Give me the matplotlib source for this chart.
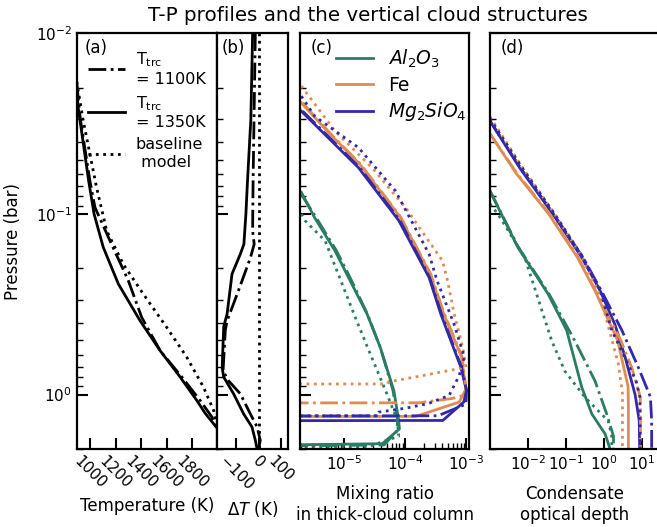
import numpy as np
import matplotlib.pyplot as plt
from matplotlib.ticker import NullLocator

# colours of the three condensates
c_al = '#2a7d64'
c_fe = '#e08c50'
c_mg = '#3328a8'

# ---- (a) T-P profiles ----
p_base = [0.0185, 0.0306, 0.0716, 0.124, 0.19, 0.278, 0.425, 0.622, 0.912, 1.22, 1.5]
t_base = [896, 948, 1052, 1131, 1261, 1418, 1601, 1758, 1889, 1967, 1994]
p_1350 = [0.0188, 0.025, 0.0658, 0.1, 0.153, 0.244, 0.39, 0.571, 0.80, 1.08, 1.27, 1.53]
t_1350 = [896, 905, 990, 1032, 1104, 1222, 1392, 1549, 1706, 1837, 1902, 1994]
p_1100 = [0.0188, 0.03, 0.066, 0.092, 0.141, 0.234, 0.374, 0.571, 0.80, 1.08, 1.33, 1.55]
t_1100 = [896, 925, 1000, 1039, 1157, 1300, 1405, 1549, 1719, 1863, 1954, 1994]

# ---- (b) temperature difference to baseline ----
p_dt1350 = [0.01, 0.03, 0.066, 0.1, 0.147, 0.167, 0.215, 0.358, 0.42, 0.71, 0.8, 0.99, 1.28, 1.51, 1.79, 2.0]
dt_1350 = [-27, -35, -50, -57, -66, -82, -119, -141, -156, -163, -156, -112, -67, -30, -15, -7]
p_dt1100 = [0.01, 0.066, 0.124, 0.147, 0.175, 0.278, 0.39, 0.44, 0.74, 0.84, 0.99, 1.28, 1.51, 1.79, 2.0]
dt_1100 = [-15, -25, -27, -20, -37, -96, -141, -149, -159, -134, -82, -37, -7, 7, 0]
p_dtbase = [0.01, 2.0]
dt_base = [0, 0]

# ---- (c) mixing ratio ----
p_qmg_1350 = [0.027, 0.0379, 0.0555, 0.109, 0.225, 0.358, 0.706, 0.95, 1.10, 1.39, 1.40]
q_mg_1350 = [2e-6, 5.5e-6, 1.72e-5, 7.85e-5, 2.45e-4, 3.8e-4, 8.1e-4, 1.0e-3, 9e-4, 4.1e-4, 1e-10]
p_qmg_1100 = [0.027, 0.0379, 0.0555, 0.109, 0.225, 0.358, 0.706, 0.95, 1.13, 1.31, 1.315]
q_mg_1100 = [2.1e-6, 5.8e-6, 1.8e-5, 8.2e-5, 2.5e-4, 3.9e-4, 8.3e-4, 1.0e-3, 9.8e-4, 3.4e-4, 1e-10]
p_qmg_base = [0.0223, 0.0288, 0.043, 0.0746, 0.167, 0.234, 0.41, 0.62, 0.785, 1.01, 1.12, 1.19, 1.25, 1.31, 1.315]
q_mg_base = [2e-6, 3.3e-6, 1.72e-5, 6.9e-5, 2.45e-4, 3.3e-4, 6.3e-4, 9.2e-4, 7.6e-4, 5.2e-4, 2.4e-4, 1e-4, 3.7e-5, 3.5e-5, 1e-10]

p_qfe_1350 = [0.0243, 0.036, 0.053, 0.104, 0.215, 0.34, 0.62, 0.93, 1.10, 1.32, 1.325]
q_fe_1350 = [2e-6, 5.8e-6, 1.8e-5, 8.2e-5, 2.55e-4, 4.0e-4, 8.3e-4, 9.8e-4, 7.6e-4, 1.48e-4, 1e-10]
p_qfe_1100 = [0.0243, 0.036, 0.053, 0.104, 0.215, 0.34, 0.62, 0.93, 1.0, 1.05, 1.11, 1.115]
q_fe_1100 = [2.1e-6, 6e-6, 1.85e-5, 8.4e-5, 2.6e-4, 4.1e-4, 8.5e-4, 9.8e-4, 1.0e-3, 5.9e-4, 1.67e-4, 1e-10]
p_qfe_base = [0.0196, 0.0209, 0.0348, 0.0555, 0.092, 0.182, 0.234, 0.358, 0.55, 0.706, 0.73, 0.785, 0.85, 0.873, 0.876]
q_fe_base = [2e-6, 2.3e-6, 7.1e-6, 2.86e-5, 1e-4, 4.06e-4, 4.9e-4, 6.3e-4, 8.7e-4, 9.8e-4, 5.9e-4, 1.9e-4, 5.4e-5, 5e-5, 1e-10]

p_qal_1350 = [0.076, 0.105, 0.16, 0.225, 0.358, 0.548, 0.95, 1.39, 1.55, 1.87, 1.97]
q_al_1350 = [2e-6, 3.3e-6, 7.1e-6, 1.18e-5, 2.37e-5, 3.9e-5, 6.5e-5, 7.8e-5, 8e-5, 4.2e-5, 1e-10]
p_qal_1100 = [0.078, 0.105, 0.16, 0.225, 0.358, 0.548, 0.95, 1.39, 1.6, 1.9, 1.98]
q_al_1100 = [2e-6, 3.5e-6, 7.5e-6, 1.25e-5, 2.4e-5, 3.9e-5, 6.3e-5, 7.5e-5, 7.2e-5, 4.5e-5, 1e-10]
p_qal_base = [0.1, 0.109, 0.141, 0.215, 0.39, 0.6, 0.99, 1.39, 1.7, 1.95, 1.99]
q_al_base = [2e-6, 2.3e-6, 4.9e-6, 8e-6, 1.6e-5, 2.7e-5, 5e-5, 7.4e-5, 7.8e-5, 2.4e-5, 1e-10]

# ---- (d) condensate optical depth ----
p_tmg_1350 = [0.0306, 0.0555, 0.1, 0.174, 0.266, 0.41, 0.62, 1.0, 1.4, 2.0]
tau_mg_1350 = [1e-3, 6e-3, 0.045, 0.26, 0.79, 1.95, 3.6, 6.6, 8.5, 8.7]
p_tmg_1100 = [0.0306, 0.0555, 0.1, 0.174, 0.266, 0.44, 0.71, 1.03, 1.4, 2.0]
tau_mg_1100 = [1e-3, 6.3e-3, 0.047, 0.28, 0.85, 2.95, 8.1, 16.7, 18, 18]
p_tmg_base = [0.0297, 0.0555, 0.1, 0.174, 0.266, 0.44, 0.84, 1.03, 1.4, 2.0]
tau_mg_base = [1e-3, 7e-3, 0.05, 0.28, 0.8, 1.6, 7.0, 8.8, 9.0, 9.0]

p_tfe_1350 = [0.036, 0.06, 0.1, 0.174, 0.266, 0.503, 0.9, 1.2, 2.0]
tau_fe_1350 = [1e-3, 5e-3, 0.035, 0.2, 0.58, 2.3, 4.3, 4.4, 4.4]
p_tfe_1100 = [0.036, 0.06, 0.1, 0.174, 0.266, 0.503, 0.71, 1.03, 2.0]
tau_fe_1100 = [1e-3, 5.2e-3, 0.037, 0.21, 0.6, 2.8, 5.4, 9.0, 9.2]
p_tfe_base = [0.029, 0.055, 0.1, 0.174, 0.266, 0.358, 0.68, 0.99, 2.0]
tau_fe_base = [1e-3, 7e-3, 0.05, 0.27, 0.7, 1.07, 2.4, 3.07, 3.07]

p_tal_1350 = [0.0746, 0.153, 0.278, 0.44, 0.91, 1.28, 1.65, 2.0]
tau_al_1350 = [1e-3, 5.4e-3, 0.034, 0.104, 0.26, 0.48, 1.07, 1.45]
p_tal_1100 = [0.0746, 0.153, 0.278, 0.44, 0.503, 0.84, 1.28, 1.7, 2.0]
tau_al_1100 = [1e-3, 5.6e-3, 0.036, 0.12, 0.17, 0.58, 1.18, 1.78, 1.78]
p_tal_base = [0.088, 0.1, 0.174, 0.503, 0.74, 1.03, 1.4, 1.7, 2.0]
tau_al_base = [1e-3, 1.6e-3, 8.2e-3, 0.042, 0.093, 0.31, 1.3, 1.6, 1.6]

plt.rcParams['font.size'] = 11

fig = plt.figure(figsize=(6.57, 5.27), dpi=100)
ax1 = fig.add_axes([0.1167, 0.148, 0.2136, 0.789])
ax2 = fig.add_axes([0.3303, 0.148, 0.1081, 0.789])
ax3 = fig.add_axes([0.4566, 0.148, 0.2573, 0.789])
ax4 = fig.add_axes([0.7458, 0.148, 0.2589, 0.789])

lw = 2
ax1.plot(t_1100, p_1100, 'k-.', lw=lw, label='T$_\\mathrm{trc}$\n= 1100K')
ax1.plot(t_1350, p_1350, 'k-', lw=lw, label='T$_\\mathrm{trc}$\n= 1350K')
ax1.plot(t_base, p_base, 'k:', lw=lw, label='baseline\n model')

ax2.plot(dt_1100, p_dt1100, 'k-.', lw=lw)
ax2.plot(dt_1350, p_dt1350, 'k-', lw=lw)
ax2.plot(dt_base, p_dtbase, 'k:', lw=lw)

ax3.plot(q_al_1350, p_qal_1350, '-', color=c_al, lw=lw, label='$Al_2O_3$')
ax3.plot(q_fe_1350, p_qfe_1350, '-', color=c_fe, lw=lw, label='Fe')
ax3.plot(q_mg_1350, p_qmg_1350, '-', color=c_mg, lw=lw, label='$Mg_2SiO_4$')
ax3.plot(q_al_1100, p_qal_1100, '-.', color=c_al, lw=lw)
ax3.plot(q_fe_1100, p_qfe_1100, '-.', color=c_fe, lw=lw)
ax3.plot(q_mg_1100, p_qmg_1100, '-.', color=c_mg, lw=lw)
ax3.plot(q_al_base, p_qal_base, ':', color=c_al, lw=lw)
ax3.plot(q_fe_base, p_qfe_base, ':', color=c_fe, lw=lw)
ax3.plot(q_mg_base, p_qmg_base, ':', color=c_mg, lw=lw)

ax4.plot(tau_al_1350, p_tal_1350, '-', color=c_al, lw=lw)
ax4.plot(tau_fe_1350, p_tfe_1350, '-', color=c_fe, lw=lw)
ax4.plot(tau_mg_1350, p_tmg_1350, '-', color=c_mg, lw=lw)
ax4.plot(tau_al_1100, p_tal_1100, '-.', color=c_al, lw=lw)
ax4.plot(tau_fe_1100, p_tfe_1100, '-.', color=c_fe, lw=lw)
ax4.plot(tau_mg_1100, p_tmg_1100, '-.', color=c_mg, lw=lw)
ax4.plot(tau_al_base, p_tal_base, ':', color=c_al, lw=lw)
ax4.plot(tau_fe_base, p_tfe_base, ':', color=c_fe, lw=lw)
ax4.plot(tau_mg_base, p_tmg_base, ':', color=c_mg, lw=lw)

for ax, lab in zip([ax1, ax2, ax3, ax4], ['(a)', '(b)', '(c)', '(d)']):
    ax.set_yscale('log')
    ax.set_ylim(2.0, 0.01)
    for s in ax.spines.values():
        s.set_linewidth(1.6)
    ax.tick_params(which='major', direction='in', length=8, width=1.5, labelsize=11)
    ax.tick_params(which='minor', direction='in', length=4, width=1.0)
    ax.text(0.06, 0.985, lab, transform=ax.transAxes, ha='left', va='top', fontsize=12)
    if ax is not ax1:
        ax.tick_params(axis='y', which='both', labelleft=False)

ax1.set_xlim(896, 1994)
ax1.set_xticks([1000, 1200, 1400, 1600, 1800])
ax1.set_ylabel('Pressure (bar)', fontsize=12, labelpad=10)
ax1.set_xlabel('Temperature (K)', fontsize=12)
plt.setp(ax1.get_xticklabels(), rotation=-45)
ax1.legend(loc='upper right', frameon=False, fontsize=11.5, handlelength=2.3,
           handletextpad=0.7, labelspacing=0.45, borderaxespad=0.3,
           bbox_to_anchor=(1.0, 0.985))

ax2.set_xlim(-186, 131)
ax2.set_xticks([-100, 0, 100])
ax2.set_xlabel('$\\Delta T$ (K)', fontsize=12)
plt.setp(ax2.get_xticklabels(), rotation=-45)

ax3.set_xscale('log')
ax3.set_xlim(1.9e-6, 1.1e-3)
ax3.set_xlabel('Mixing ratio\nin thick-cloud column', fontsize=12, labelpad=9)
ax3.legend(loc='upper right', frameon=False, fontsize=13.5, handlelength=2.0,
           labelspacing=0.3, borderaxespad=0.05, bbox_to_anchor=(1.035, 0.985))

ax4.set_xscale('log')
ax4.set_xlim(1e-3, 30)
ax4.xaxis.set_minor_locator(NullLocator())
ax4.set_xticks([1e-2, 1e-1, 1e0, 1e1])
ax4.set_xlabel('Condensate\noptical depth', fontsize=12, labelpad=9)

fig.text(0.56, 0.988, 'T-P profiles and the vertical cloud structures', fontsize=14.3,
         ha='center', va='top')

plt.savefig('out.png', dpi=100)
